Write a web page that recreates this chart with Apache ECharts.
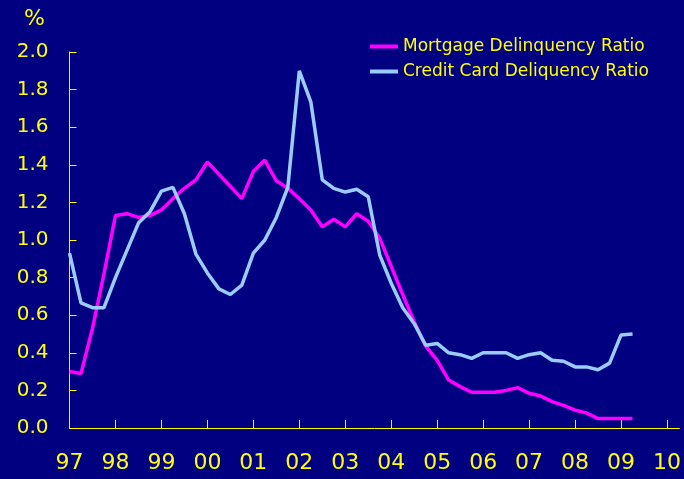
<!DOCTYPE html>
<html>
<head>
<meta charset="utf-8">
<script src="https://cdn.jsdelivr.net/npm/echarts@6/dist/echarts.min.js"></script>
<style>
	html, body { margin: 0; padding: 0; background: #000080; }
	#chart { width: 684px; height: 479px; }
</style>
</head>
<body>
<div id="chart"></div>
<script>
// quarterly, 1997 Q1 .. 2009 Q2
var startYear = 1997;
var mortgageRatio = [
	0.30, 0.29, 0.53, 0.82, 1.13, 1.14, 1.12, 1.13, 1.16, 1.22,
	1.275, 1.32, 1.415, 1.35, 1.285, 1.22, 1.365, 1.425, 1.315, 1.275,
	1.22, 1.16, 1.07, 1.11, 1.07, 1.14, 1.10, 1.01, 0.86, 0.71,
	0.565, 0.435, 0.36, 0.255, 0.22, 0.19, 0.19, 0.19, 0.20, 0.215,
	0.185, 0.17, 0.14, 0.12, 0.095, 0.08, 0.05, 0.05, 0.05, 0.05
];
var creditCardRatio = [
	0.93, 0.665, 0.64, 0.64, 0.80, 0.945, 1.09, 1.15, 1.26, 1.28,
	1.14, 0.925, 0.825, 0.74, 0.71, 0.76, 0.93, 1.00, 1.12, 1.28,
	1.90, 1.735, 1.32, 1.275, 1.255, 1.27, 1.23, 0.92, 0.77, 0.64,
	0.555, 0.44, 0.45, 0.40, 0.39, 0.37, 0.40, 0.40, 0.40, 0.37,
	0.39, 0.40, 0.36, 0.355, 0.325, 0.325, 0.31, 0.345, 0.495, 0.50
];
var yearTicks = [1997, 1998, 1999, 2000, 2001, 2002, 2003, 2004, 2005, 2006, 2007, 2008, 2009, 2010];
var seriesNames = ['Mortgage Delinquency Ratio', 'Credit Card Deliquency Ratio'];

var yellow = '#FFFF00';

function toPoints(arr) {
	return arr.map(function (v, i) {
		return [startYear + i / 4, v];
	});
}

var myChart = echarts.init(document.getElementById('chart'));
var option = {
	backgroundColor: '#000080',
	animation: false,
	title: {
		text: '%',
		left: 19,
		top: 3,
		textStyle: { color: yellow, fontFamily: 'DejaVu Sans', fontSize: 22, fontWeight: 'normal' }
	},
	legend: {
		orient: 'vertical',
		left: 365,
		top: 33,
		icon: 'rect',
		itemWidth: 28,
		itemHeight: 4,
		itemGap: 8,
		data: seriesNames,
		textStyle: { color: yellow, fontFamily: 'DejaVu Sans', fontSize: 17, lineHeight: 17 }
	},
	grid: {
		left: 69.5,
		right: 4,
		top: 52,
		bottom: 51
	},
	xAxis: {
		type: 'value',
		min: 1997,
		max: 2010.27,
		axisLine: { lineStyle: { color: yellow, width: 1 } },
		axisTick: {
			inside: true,
			length: 8,
			customValues: yearTicks,
			lineStyle: { color: yellow }
		},
		axisLabel: {
			customValues: yearTicks,
			margin: 24,
			color: yellow,
			fontFamily: 'DejaVu Sans',
			fontSize: 22,
			formatter: function (v) {
				var s = String(Math.round(v) % 100);
				return s.length < 2 ? '0' + s : s;
			}
		},
		splitLine: { show: false }
	},
	yAxis: {
		type: 'value',
		min: 0,
		max: 2,
		interval: 0.2,
		axisLine: { show: true, lineStyle: { color: yellow, width: 1 } },
		axisTick: { show: true, inside: true, length: 7, lineStyle: { color: yellow } },
		axisLabel: {
			margin: 21,
			color: yellow,
			fontFamily: 'DejaVu Sans',
			fontSize: 20,
			formatter: function (v) { return v.toFixed(1); }
		},
		splitLine: { show: false }
	},
	series: [
		{
			name: seriesNames[0],
			type: 'line',
			symbol: 'none',
			z: 2,
			data: toPoints(mortgageRatio),
			lineStyle: { color: '#FF00FF', width: 3.5 },
			itemStyle: { color: '#FF00FF' }
		},
		{
			name: seriesNames[1],
			type: 'line',
			symbol: 'none',
			z: 3,
			data: toPoints(creditCardRatio),
			lineStyle: { color: '#99CCFF', width: 3.5 },
			itemStyle: { color: '#99CCFF' }
		}
	]
};
myChart.setOption(option);
window.addEventListener('resize', function () {
	myChart.resize();
});
</script>
</body>
</html>
